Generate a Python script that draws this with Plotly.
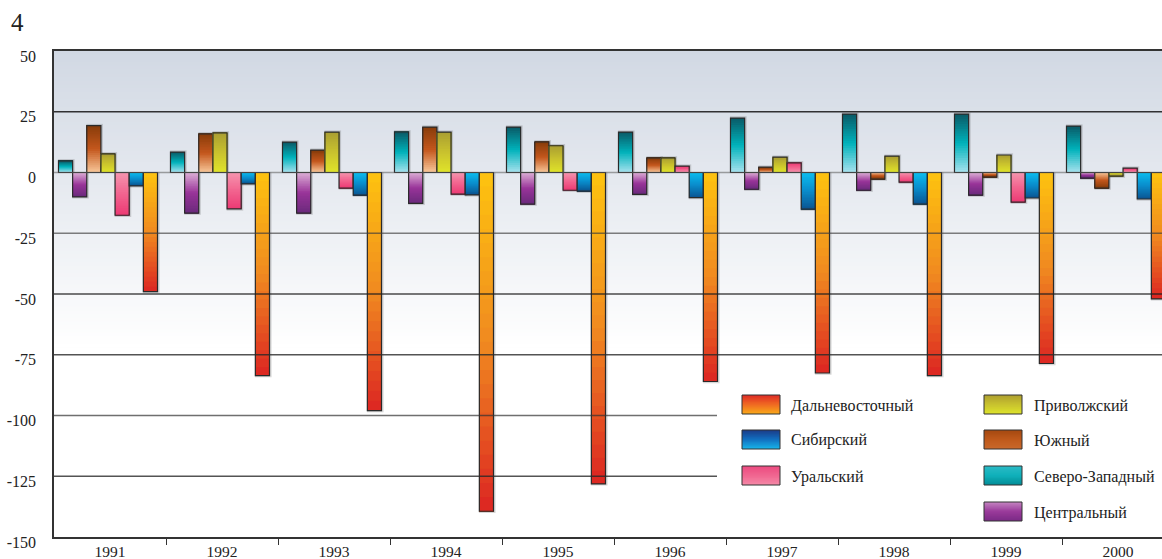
import plotly.graph_objects as go

# ---------------- data ----------------
years = ["1991", "1992", "1993", "1994", "1995", "1996", "1997", "1998", "1999", "2000"]
severo_zapadny = [4.8, 8.4, 12.5, 16.7, 18.7, 16.6, 22.4, 24.0, 24.0, 19.1]
centralny = [-10.0, -16.7, -16.7, -12.7, -13.0, -9.0, -6.9, -7.3, -9.3, -2.3]
yuzhny = [19.3, 15.9, 9.2, 18.7, 12.6, 6.0, 2.2, -2.7, -1.9, -6.4]
privolzhsky = [7.7, 16.3, 16.6, 16.6, 11.0, 6.0, 6.3, 6.7, 7.2, -1.5]
uralsky = [-17.6, -15.0, -6.4, -8.9, -7.3, 2.6, 4.0, -4.0, -12.2, 1.8]
sibirsky = [-5.5, -4.7, -9.3, -9.2, -7.7, -10.3, -15.1, -13.0, -10.5, -10.9]
dalnevostochny = [-49.0, -83.6, -98.0, -139.4, -128.1, -86.0, -82.5, -83.6, -78.6, -52.0]

y_ticks = [50, 25, 0, -25, -50, -75, -100, -125, -150]

# series in drawing order within a year group
series = [
    ("Северо-Западный", severo_zapadny, ["#a8e2ee", "#00b2bb", "#0a5a66"]),
    ("Центральный", centralny, ["#ddb0d6", "#993499", "#6a2a7c"]),
    ("Южный", yuzhny, ["#f8c89a", "#c4571d", "#873c0a"]),
    ("Приволжский", privolzhsky, ["#e0e42a", "#c9c22e", "#aa9e32"]),
    ("Уральский", uralsky, ["#f595ae", "#f2648f", "#ec3a74"]),
    ("Сибирский", sibirsky, ["#0bbef0", "#0a8ccb", "#0a5592"]),
    ("Дальневосточный", dalnevostochny, ["#fec30f", "#f08a20", "#dc2522"]),
]

# legend layout: (name, column, row, swatch colours top->bottom)
legend_items = [
    ("Дальневосточный", 0, 0, ["#de2a26", "#f06a22", "#f9ab1a"]),
    ("Сибирский", 0, 1, ["#1b3a86", "#1270c0", "#18b6ea"]),
    ("Уральский", 0, 2, ["#ec4a80", "#f06690", "#f58aa8"]),
    ("Приволжский", 1, 0, ["#ae9f30", "#c8c22e", "#dee42c"]),
    ("Южный", 1, 1, ["#a44810", "#bf5a1c", "#c9692c"]),
    ("Северо-Западный", 1, 2, ["#2cbac6", "#10b0ba", "#038c96"]),
    ("Центральный", 1, 3, ["#c585c2", "#9a3a9a", "#7a2a86"]),
]

FONT = "Liberation Serif"
FS = 16

# plot-area geometry (pixels)
L, T, W, H = 54, 51, 1108, 486


def px2x(px):
    return (px - L) / W


def px2y(py):
    return (T + H - py) / H


def hex2rgb(h):
    h = h.lstrip("#")
    return tuple(int(h[i:i + 2], 16) for i in (0, 2, 4))


def interp(stops, t):
    n = len(stops) - 1
    s = min(int(t * n), n - 1)
    lt = t * n - s
    a, b = hex2rgb(stops[s]), hex2rgb(stops[s + 1])
    c = [round(a[k] + (b[k] - a[k]) * lt) for k in range(3)]
    return "rgb(%d,%d,%d)" % tuple(c)


fig = go.Figure()

xs = list(range(len(years)))
bw = 0.1263
start = -0.46
N = 24

for i, (name, vals, stops) in enumerate(series):
    off = start + i * bw
    # soft shadow halo
    fig.add_trace(go.Bar(
        x=xs, y=[v + (0.7 if v >= 0 else -0.7) for v in vals], base=[0] * len(vals),
        offset=off - 0.004, width=bw + 0.022,
        marker=dict(color="rgba(70,70,70,0.22)", line=dict(width=0)),
        hoverinfo="skip", showlegend=False))
    # gradient: overlapping segments, each from its start to the bar end
    for j in range(N):
        t = (j + 0.5) / N
        fig.add_trace(go.Bar(
            x=xs, y=[v - v * j / N for v in vals], base=[v * j / N for v in vals],
            offset=off, width=bw,
            marker=dict(color=interp(stops, t), line=dict(width=0)),
            hoverinfo="skip", showlegend=False))
    # outline
    fig.add_trace(go.Bar(
        x=xs, y=vals, base=[0] * len(vals), offset=off, width=bw, name=name,
        marker=dict(color="rgba(0,0,0,0)", line=dict(color="#2a2a2a", width=1.2)),
        showlegend=False))

shapes = []
# background gradient (overlapping rectangles)
top_c, bot_c = "#d1d8e3", "#ffffff"
g_top, g_bot, steps = 50, -72, 80
for k in range(steps):
    y0 = g_top + (g_bot - g_top) * k / steps
    shapes.append(dict(type="rect", xref="x domain", yref="y", x0=0, x1=1, y0=y0, y1=g_bot,
                       fillcolor=interp([top_c, bot_c], (k + 0.5) / steps),
                       line=dict(width=0), layer="below"))

# grid lines (drawn over bars, semi-transparent)
grid = [(25, "rgba(30,30,30,0.9)", 1.0), (0, "rgba(90,90,90,0.55)", 1.0),
        (-25, "rgba(60,60,60,0.65)", 1.0), (-50, "rgba(30,30,30,0.8)", 1.0),
        (-75, "rgba(40,40,40,0.8)", 1.0), (-100, "rgba(50,50,50,0.7)", px2x(717)),
        (-125, "rgba(40,40,40,0.8)", px2x(717))]
for yv, col, xe in grid:
    shapes.append(dict(type="line", xref="x domain", yref="y", x0=0, x1=xe, y0=yv, y1=yv,
                       line=dict(color=col, width=1.4), layer="above"))

annotations = []
# custom legend
col_sw_x = [742, 984]
col_tx_x = [789, 1032]
row_y = [395, 430, 466, 502]
sw_w, sw_h = 38, 19
for name, c, r, stops in legend_items:
    x0 = col_sw_x[c]
    y0 = row_y[r]
    ns = 20
    for k in range(ns):
        shapes.append(dict(type="rect", xref="paper", yref="paper",
                           x0=px2x(x0), x1=px2x(x0 + sw_w),
                           y0=px2y(y0 + sw_h * k / ns), y1=px2y(y0 + sw_h),
                           fillcolor=interp(stops, (k + 0.5) / ns), line=dict(width=0),
                           layer="above"))
    shapes.append(dict(type="rect", xref="paper", yref="paper",
                       x0=px2x(x0), x1=px2x(x0 + sw_w), y0=px2y(y0), y1=px2y(y0 + sw_h),
                       line=dict(color="#333333", width=1), fillcolor="rgba(0,0,0,0)",
                       layer="above"))
    annotations.append(dict(x=px2x(col_tx_x[c]), y=px2y(y0 + sw_h / 2 + 1), xref="paper", yref="paper",
                            text=name, showarrow=False, xanchor="left", yanchor="middle",
                            font=dict(family=FONT, size=FS, color="#222222")))

annotations.append(dict(x=px2x(9), y=px2y(22), xref="paper", yref="paper", text="4",
                        showarrow=False, xanchor="left", yanchor="middle",
                        font=dict(family=FONT, size=25, color="#222222")))

fig.update_layout(
    width=1162, height=559,
    margin=dict(l=L, r=0, t=T, b=559 - T - H, pad=0, autoexpand=False),
    paper_bgcolor="white", plot_bgcolor="white",
    font=dict(family=FONT, size=FS, color="#222222"),
    barmode="overlay",
    shapes=shapes, annotations=annotations,
    showlegend=False,
    xaxis=dict(range=[-0.5, -0.5 + W / 112.0], tickvals=xs, ticktext=years,
               ticks="", showgrid=False, zeroline=False, automargin=False,
               showline=True, linecolor="#333333", linewidth=1.5, mirror=True,
               ticklabelstandoff=0,
               minor=dict(tickvals=[k + 0.5 for k in range(9)], ticks="outside", ticklen=6,
                          tickwidth=1.3, tickcolor="#333333", showgrid=False),
               tickfont=dict(family=FONT, size=15.5, color="#222222")),
    yaxis=dict(range=[-150, 50], tickvals=y_ticks, ticktext=[str(v) for v in y_ticks],
               ticks="", showgrid=False, zeroline=False, automargin=False,
               showline=True, linecolor="#333333", linewidth=1.5,
               ticklabelstandoff=13, ticklabelshift=5,
               tickfont=dict(family=FONT, size=FS, color="#222222")),
)

fig.write_html("out.html", config={"displayModeBar": False},
               post_script="document.body.style.margin='0';document.body.style.overflow='hidden';")
